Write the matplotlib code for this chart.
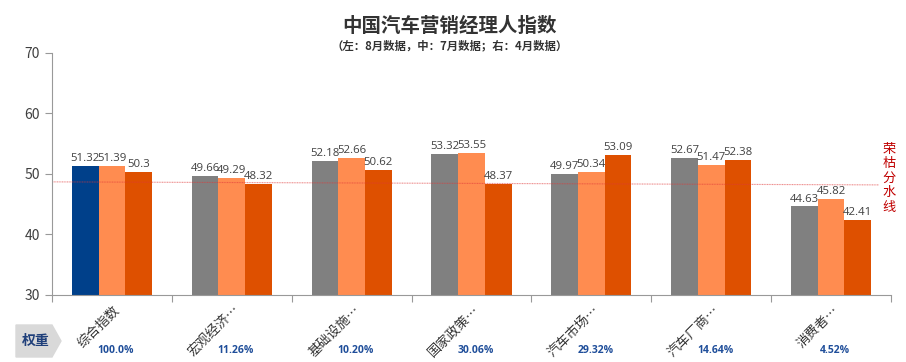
import numpy as np
import matplotlib
matplotlib.use("Agg")
import matplotlib.pyplot as plt
from matplotlib.patches import Polygon

plt.rcParams['font.family'] = ['Noto Sans CJK SC', 'DejaVu Sans']

## data
categories = ['综合指数', '宏观经济…', '基础设施…', '国家政策…', '汽车市场…', '汽车厂商…', '消费者…']
aug = [51.32, 49.66, 52.18, 53.32, 49.97, 52.67, 44.63]
jul = [51.39, 49.29, 52.66, 53.55, 50.34, 51.47, 45.82]
apr = [50.3, 48.32, 50.62, 48.37, 53.09, 52.38, 42.41]
weights = ['100.0%', '11.26%', '10.20%', '30.06%', '29.32%', '14.64%', '4.52%']
threshold = [48.7, 48.2]

c_blue = '#00408a'
c_gray = '#808080'
c_light = '#ff8c50'
c_dark = '#de5000'

fig = plt.figure(figsize=(9.06, 3.62), dpi=100)
ax = fig.add_axes([52/906, 1-295/362, (891-52)/906, (295-53)/362])

x = np.arange(len(categories))
w = 0.223
cols0 = [c_blue] + [c_gray]*(len(categories)-1)
ax.bar(x - w, np.array(aug) - 30, w, bottom=30, color=cols0)
ax.bar(x, np.array(jul) - 30, w, bottom=30, color=c_light)
ax.bar(x + w, np.array(apr) - 30, w, bottom=30, color=c_dark)

for xs, vals in [(x - w, aug), (x, jul), (x + w, apr)]:
    for xi, v in zip(xs, vals):
        ax.text(xi, v + 0.3, '%g' % v, ha='center', va='bottom',
                fontsize=8.2, color='#404040', family=['Open Sans', 'DejaVu Sans'])

## threshold line
ax.plot([-0.5, len(categories) - 0.6], threshold, color='#e03838', lw=0.8, alpha=0.55, ls=(0, (1, 0.5)))
fig.text(889/906, 1-178/362, '荣\n枯\n分\n水\n线', color='#c00000', fontsize=9.5,
         ha='center', va='center', linespacing=1.15)

ax.set_xlim(-0.5, len(categories) - 0.5)
ax.set_ylim(30, 70)
ax.set_yticks([30, 40, 50, 60, 70])
ax.tick_params(axis='y', colors='#999999', labelcolor='#404040', labelsize=10, length=5)
ax.set_xticks(np.arange(len(categories) + 1) - 0.5)
ax.set_xticklabels([])
ax.tick_params(axis='x', colors='#999999', length=5)
for s in ['top', 'right']:
    ax.spines[s].set_visible(False)
for s in ['left', 'bottom']:
    ax.spines[s].set_color('#999999')

## category labels
for xi, lab in zip(x, categories):
    ax.annotate(lab, (xi, 30), xytext=(1, -6), textcoords='offset points',
                rotation=45, ha='right', va='top', rotation_mode='anchor',
                fontsize=9.5, color='#333333', annotation_clip=False)
    ax.annotate(weights[xi], (xi, 30), xytext=(3, -40), textcoords='offset points',
                ha='center', va='center', fontsize=7.5, color='#1f4e9a',
                family=['Open Sans', 'DejaVu Sans'], fontweight='bold', annotation_clip=False)

## weight tag
fig.patches.append(Polygon([[16/906, 1-325/362], [52/906, 1-325/362], [61/906, 1-341/362],
                            [52/906, 1-357/362], [16/906, 1-357/362]],
                           closed=True, transform=fig.transFigure, color='#d9d9d9', zorder=0))
fig.text(36/906, 1-341/362, '权重', ha='center', va='center', fontsize=10,
         color='#1f3f7a', fontweight='bold')

## title
fig.text(450/906, 1-26/362, '中国汽车营销经理人指数', ha='center', va='center',
         fontsize=14, fontweight='bold', color='#333333')
fig.text(450/906, 1-46/362, '（左：8月数据，中：7月数据；右：4月数据）', ha='center',
         va='center', fontsize=8.2, fontweight='bold', color='#333333')

fig.savefig('out.png', dpi=100)
